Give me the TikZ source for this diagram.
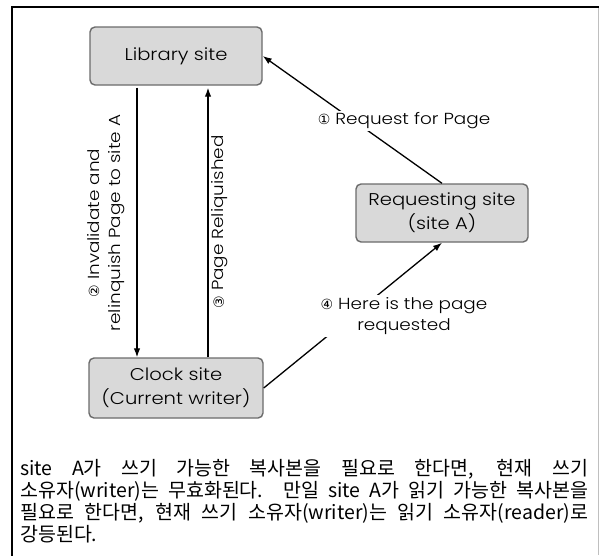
\documentclass[tikz,border=0pt]{standalone}
\usepackage{fontspec}
\setmainfont{Poppins}[UprightFont=* Light, FakeStretch=1.15]
\newfontfamily\kofont{Noto Sans CJK KR}
\newfontfamily\symfont{DejaVu Sans}
\usetikzlibrary{arrows.meta}
\newcommand\circnum[1]{{\symfont\fontsize{14}{14}\selectfont #1}}

\begin{document}
\begin{tikzpicture}[x=1pt,y=-1pt,
  site/.style={draw=black!58, fill=black!15, rounded corners=5pt, line width=1.4pt,
    minimum width=172pt, minimum height=58pt, align=center, inner sep=2pt,
    font=\fontsize{17}{24}\selectfont},
  link/.style={line width=1.3pt, -{Latex[length=9pt,width=6.5pt]}},
  lbl/.style={align=center, inner sep=2pt, font=\fontsize{16}{21.5}\selectfont},
  noteline/.style={anchor=base west, inner sep=0pt, font=\kofont\fontsize{19.5}{22}\selectfont},
  ]
\useasboundingbox (0,0) rectangle (599,555);

% frame
\draw[line width=2.5pt] (12,556) -- (12,7) -- (600,7);
\draw[black!25, line width=0.8pt] (598,8) -- (598,555);

% sites
\node[site] (lib) at (176,56) {Library site};
\node[site] (req) at (442,213) {Requesting site\\(site A)};
\node[site, minimum width=174pt, minimum height=60pt] (clk) at (176,388) {Clock site\\(Current writer)};

% messages
\draw[link] (req.north) -- (lib.east);
\draw[link, shorten <=2pt] ([xshift=-39pt]lib.south) -- ([xshift=-39pt]clk.north);
\draw[link, shorten >=2pt] ([xshift=32pt]clk.north) -- ([xshift=32pt]lib.south);
\draw[link] (clk.east) -- (req.south);

% message labels
\node[lbl, fill=white] (m1) at (404,121) {\circnum{①} Request for Page};
\node[lbl, rotate=90] (m2) at (106,223) {\circnum{②} Invalidate and\\relinquish Page to site A};
\node[lbl, rotate=90] (m3) at (220,222) {\circnum{③} Page Reliquished};
\node[lbl, fill=white] (m4) at (404,316) {\circnum{④} Here is the page\\requested};

% note, one node per line
\node[noteline] (n1) at (20,475) {\makebox[568pt][s]{site A가 쓰기 가능한 복사본을 필요로 한다면, 현재 쓰기}};
\node[noteline] (n2) at (20,497) {\makebox[568pt][s]{소유자(writer)는 무효화된다. 만일 site A가 읽기 가능한 복사본을}};
\node[noteline] (n3) at (20,519) {\makebox[568pt][s]{필요로 한다면, 현재 쓰기 소유자(writer)는 읽기 소유자(reader)로}};
\node[noteline] (n4) at (20,541) {강등된다.};
\end{tikzpicture}
\end{document}
